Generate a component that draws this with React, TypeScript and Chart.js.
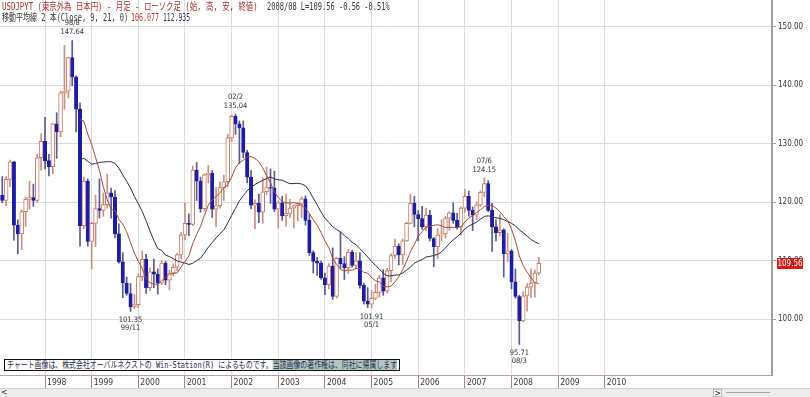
import React, { useEffect, useLayoutEffect, useRef } from 'react';
import { Chart, registerables } from 'chart.js';

Chart.register(...registerables);

// ---- data (monthly USD/JPY candles, 1997/02 .. 2008/08) ----
const START_YEAR = 1997;
const START_MONTH = 2;

const OPEN = [
  121.2, 120.3, 123.9, 126.9, 116.1, 114.6, 118.4, 120.5, 120.8, 120.3, 127.6,
  130.4, 127.1, 126.1, 133.4, 132.0, 138.7, 139.0, 144.7, 141.4, 135.9, 116.0, 123.6,
  113.3, 116.4, 118.9, 118.6, 119.6, 121.6, 120.9, 114.6, 109.8, 106.2, 104.4, 102.1,
  102.5, 107.3, 110.3, 105.4, 108.1, 107.7, 106.2, 109.6, 106.7, 107.9, 108.9, 111.0,
  114.4, 116.4, 116.2, 125.5, 123.6, 118.9, 124.7, 125.0, 118.8, 119.4, 122.5, 123.5,
  131.0, 134.7, 133.4, 132.7, 128.5, 124.3, 119.5, 119.8, 118.3, 121.8, 122.5, 122.4,
  118.8, 119.9, 117.7, 118.1, 119.0, 119.4, 119.8, 120.6, 116.9, 111.4, 109.9, 109.6,
  107.1, 105.9, 109.1, 103.9, 110.4, 109.5, 108.8, 111.5, 109.2, 110.0, 105.8, 103.1,
  102.6, 103.6, 104.6, 107.1, 104.8, 108.3, 110.9, 112.5, 111.0, 113.4, 116.4, 119.8,
  117.9, 117.2, 115.8, 117.8, 113.8, 112.4, 114.4, 114.6, 117.3, 118.2, 116.9, 115.8,
  119.0, 121.0, 118.6, 117.8, 119.5, 121.7, 123.2, 118.6, 115.8, 114.8, 115.3, 111.2,
  111.7, 106.4, 103.9, 99.7, 104.0, 105.5, 106.2, 107.9,
];
const HIGH = [
  124.4, 124.4, 127.2, 127.0, 117.0, 118.7, 120.9, 123.6, 123.1, 128.2, 131.7,
  134.5, 128.2, 133.5, 135.3, 139.0, 146.8, 144.8, 147.64, 141.6, 137.0, 124.3, 124.0,
  116.6, 121.2, 124.0, 121.6, 124.8, 122.4, 122.0, 116.3, 111.4, 107.2, 106.1, 104.2,
  107.8, 111.7, 111.1, 108.8, 110.3, 108.6, 110.0, 109.9, 108.4, 109.5, 111.3, 114.8,
  119.9, 118.0, 126.2, 126.8, 124.3, 124.9, 126.3, 125.4, 122.5, 123.5, 124.6, 131.6,
  134.9, 135.04, 133.9, 133.9, 128.9, 125.4, 120.4, 121.4, 124.2, 126.0, 125.7, 125.3,
  120.2, 121.0, 121.4, 120.5, 119.6, 120.0, 120.9, 121.1, 118.0, 111.7, 110.6, 110.0,
  107.9, 109.5, 112.2, 110.6, 114.9, 110.7, 112.0, 111.8, 111.4, 111.4, 106.2, 105.4,
  104.9, 106.0, 107.5, 108.5, 108.7, 111.2, 113.7, 112.9, 113.7, 116.6, 121.4, 121.0,
  118.6, 119.3, 119.0, 118.6, 114.0, 115.5, 117.0, 117.6, 118.4, 119.9, 118.1, 119.2,
  122.2, 121.9, 119.2, 120.1, 122.0, 124.15, 123.7, 119.8, 117.0, 117.9, 115.5, 114.7,
  111.9, 108.6, 104.1, 104.7, 106.1, 108.6, 108.4, 110.6,
];
const LOW = [
  119.9, 119.4, 122.6, 113.5, 111.2, 111.9, 115.9, 118.8, 119.3, 120.0, 125.5,
  125.7, 124.5, 124.9, 127.5, 131.2, 135.9, 137.8, 139.9, 132.0, 112.5, 115.5, 112.5,
  108.6, 112.4, 117.3, 117.6, 119.0, 117.3, 113.9, 109.6, 103.7, 104.1, 101.35, 101.8,
  102.0, 106.6, 104.4, 104.9, 105.4, 104.3, 105.9, 105.9, 105.0, 107.4, 108.3, 110.3,
  113.6, 114.3, 116.0, 120.3, 118.3, 118.5, 123.3, 117.4, 115.8, 119.0, 120.3, 122.6,
  130.4, 131.6, 126.6, 127.6, 123.3, 118.9, 115.5, 116.5, 116.4, 121.3, 119.8, 118.4,
  115.6, 116.9, 115.9, 117.4, 115.6, 116.8, 117.4, 116.1, 110.9, 107.9, 107.5, 106.8,
  104.2, 105.2, 103.4, 103.6, 108.7, 106.8, 107.8, 108.9, 108.6, 105.3, 102.6, 102.0,
  101.91, 103.3, 103.8, 104.1, 104.5, 106.4, 110.4, 109.3, 109.4, 113.3, 116.3, 115.8,
  113.4, 115.4, 115.1, 113.4, 108.98, 110.4, 113.4, 113.9, 115.2, 116.4, 115.4, 114.4,
  118.3, 117.6, 115.15, 117.0, 119.3, 120.9, 118.4, 111.6, 113.4, 114.2, 107.2, 109.9,
  105.2, 103.6, 95.71, 99.6, 101.4, 103.7, 103.8, 107.6,
];
const CLOSE = [
  120.3, 123.9, 126.9, 116.1, 114.6, 118.4, 120.5, 120.8, 120.3, 127.6, 130.4,
  127.1, 126.1, 133.4, 132.0, 138.7, 139.0, 144.7, 141.4, 135.9, 116.0, 123.6, 113.3,
  116.4, 118.9, 118.6, 119.6, 121.6, 120.9, 114.6, 109.8, 106.2, 104.4, 102.1, 102.5,
  107.3, 110.3, 105.4, 108.1, 107.7, 106.2, 109.6, 106.7, 107.9, 108.9, 111.0, 114.4,
  116.4, 116.2, 125.5, 123.6, 118.9, 124.7, 125.0, 118.8, 119.4, 122.5, 123.5, 131.0,
  134.7, 133.4, 132.7, 128.5, 124.3, 119.5, 119.8, 118.3, 121.8, 122.5, 122.4, 118.8,
  119.9, 117.7, 118.1, 119.0, 119.4, 119.8, 120.6, 116.9, 111.4, 109.9, 109.6, 107.1,
  105.9, 109.1, 103.9, 110.4, 109.5, 108.8, 111.5, 109.2, 110.0, 105.8, 103.1, 102.6,
  103.6, 104.6, 107.1, 104.8, 108.3, 110.9, 112.5, 111.0, 113.4, 116.4, 119.8, 117.9,
  117.2, 115.8, 117.8, 113.8, 112.4, 114.4, 114.6, 117.3, 118.2, 116.9, 115.8, 119.0,
  121.0, 118.6, 117.8, 119.5, 121.7, 123.2, 118.6, 115.8, 114.8, 115.3, 111.2, 111.7,
  106.4, 103.9, 99.7, 104.0, 105.5, 106.2, 107.9, 109.56,
];

const MA_SHORT = 9;
const MA_LONG = 21;

const YEAR_LABELS = ['1998', '1999', '2000', '2001', '2002', '2003', '2004', '2005', '2006', '2007', '2008', '2009', '2010'];
const PRICE_TICKS = [100, 110, 120, 130, 140, 150];

const EXTREME_PERIODS = ['98/8', '99/11', '02/2', '05/1', '07/6', '08/3'];
const EXTREME_VALUES = [147.64, 101.35, 135.04, 101.91, 124.15, 95.71];
const EXTREME_SIDES = ['high', 'low', 'high', 'low', 'high', 'low'];

const LAST_PRICE = 109.56;

// ---- helpers ----
const monthPos = (i: number) => (START_MONTH - 1) + i; // months since Jan of START_YEAR
const periodPos = (p: string) => {
  const [yy, mm] = p.split('/').map(Number);
  const year = yy < 50 ? 2000 + yy : 1900 + yy;
  return (year - START_YEAR) * 12 + (mm - 1);
};
const sma = (vals: number[], n: number) =>
  vals.map((_, i) => {
    if (i < n - 1) return null;
    let s = 0;
    for (let k = i - n + 1; k <= i; k++) s += vals[k];
    return s / n;
  });

const AXIS_FONT = "'Liberation Sans Narrow', 'DejaVu Sans Condensed', 'Liberation Sans', sans-serif";
const UP_LINE = '#c77c6a';
const UP_WICK = '#c8907e';
const DOWN_FILL = '#1c1ca6';
const DOWN_WICK = '#5a5a8c';

const overlayPlugin = {
  id: 'overlay',
  afterDatasetsDraw(chart: any) {
    const { ctx, scales } = chart;
    const x = scales.x;
    const y = scales.y;
    ctx.save();
    ctx.font = `7.5px ${AXIS_FONT}`;
    ctx.fillStyle = '#333333';
    ctx.textAlign = 'center';
    ctx.textBaseline = 'middle';
    EXTREME_PERIODS.forEach((p, i) => {
      const px = x.getPixelForValue(periodPos(p));
      const py = y.getPixelForValue(EXTREME_VALUES[i]);
      const txt = EXTREME_VALUES[i].toFixed(2);
      if (EXTREME_SIDES[i] === 'high') {
        ctx.fillText(txt, px, py - 8);
        ctx.fillText(p, px, py - 17);
      } else {
        ctx.fillText(txt, px, py + 8.5);
        ctx.fillText(p, px, py + 16.5);
      }
    });
    ctx.restore();
  },
  afterDraw(chart: any) {
    const { ctx, scales, chartArea } = chart;
    const py = scales.y.getPixelForValue(LAST_PRICE);
    ctx.save();
    ctx.fillStyle = '#d41c1c';
    ctx.fillRect(chartArea.right + 5, Math.round(py - 5.5), 26, 11);
    ctx.fillStyle = '#ffffff';
    ctx.font = `8px ${AXIS_FONT}`;
    ctx.textAlign = 'center';
    ctx.textBaseline = 'middle';
    ctx.fillText(LAST_PRICE.toFixed(2), chartArea.right + 18, py + 0.5);
    ctx.restore();
  },
};

function FitText({ width, style, children }: { width: number; style: any; children: any }) {
  const ref = useRef<HTMLDivElement>(null);
  useLayoutEffect(() => {
    const el = ref.current;
    if (!el) return;
    el.style.transform = 'none';
    const w = el.scrollWidth;
    if (w > 0) el.style.transform = `scaleX(${width / w})`;
  }, [width]);
  return (
    <div
      ref={ref}
      style={{ position: 'absolute', whiteSpace: 'nowrap', transformOrigin: '0 0', ...style }}
    >
      {children}
    </div>
  );
}

export default function App() {
  const canvasRef = useRef<HTMLCanvasElement>(null);

  useEffect(() => {
    const canvas = canvasRef.current;
    if (!canvas) return;

    const isUp = OPEN.map((o, i) => CLOSE[i] >= o);
    const wicks = OPEN.map((_, i) => ({ x: monthPos(i), y: [LOW[i], HIGH[i]] }));
    const upBodies = OPEN.map((o, i) => ({ x: monthPos(i), y: isUp[i] ? [o, CLOSE[i]] : null }));
    const downBodies = OPEN.map((o, i) => ({ x: monthPos(i), y: isUp[i] ? null : [o, CLOSE[i]] }));
    const maS = sma(CLOSE, MA_SHORT);
    const maL = sma(CLOSE, MA_LONG);
    const maShortPts: any[] = [];
    const maLongPts: any[] = [];
    CLOSE.forEach((_, i) => {
      if (i >= MA_LONG - 1) {
        maShortPts.push({ x: monthPos(i), y: maS[i] });
        maLongPts.push({ x: monthPos(i), y: maL[i] });
      }
    });

    const chart = new Chart(canvas, {
      type: 'bar',
      data: {
        datasets: [
          {
            type: 'line',
            label: 'MA9',
            data: maShortPts,
            borderColor: '#a64a3c',
            borderWidth: 1,
            pointRadius: 0,
            tension: 0,
            order: 0,
          } as any,
          {
            type: 'line',
            label: 'MA21',
            data: maLongPts,
            borderColor: '#2c2c4c',
            borderWidth: 1,
            pointRadius: 0,
            tension: 0,
            order: 1,
          } as any,
          {
            type: 'bar',
            label: 'up',
            data: upBodies,
            grouped: false,
            barPercentage: 1,
            categoryPercentage: 1,
            maxBarThickness: 4,
            backgroundColor: '#ffffff',
            borderColor: UP_LINE,
            borderWidth: 1,
            borderSkipped: false,
            order: 2,
          } as any,
          {
            type: 'bar',
            label: 'down',
            data: downBodies,
            grouped: false,
            barPercentage: 1,
            categoryPercentage: 1,
            maxBarThickness: 3.4,
            backgroundColor: DOWN_FILL,
            borderColor: DOWN_FILL,
            borderWidth: 1,
            borderSkipped: false,
            order: 2,
          } as any,
          {
            type: 'bar',
            label: 'wick',
            data: wicks,
            grouped: false,
            barPercentage: 1,
            categoryPercentage: 1,
            maxBarThickness: 1,
            backgroundColor: isUp.map((u) => (u ? UP_WICK : DOWN_WICK)),
            borderWidth: 0,
            order: 3,
          } as any,
        ],
      },
      options: {
        responsive: false,
        devicePixelRatio: 1,
        animation: false,
        layout: { padding: 0 },
        plugins: { legend: { display: false }, tooltip: { enabled: false } },
        scales: {
          x: {
            type: 'linear',
            position: 'bottom',
            offset: false,
            min: 0.42,
            max: 199,
            afterBuildTicks: (s: any) => {
              s.ticks = YEAR_LABELS.map((_, i) => ({ value: (i + 1) * 12 }));
            },
            afterFit: (s: any) => {
              s.height = 22;
              s.paddingLeft = 0;
              s.paddingRight = 0;
            },
            grid: {
              offset: false,
              color: '#dcdcdc',
              tickColor: '#b47c7c',
              tickLength: 13,
              lineWidth: 1,
            },
            border: { display: true, color: '#b9a2a2', width: 1 },
            ticks: {
              autoSkip: false,
              maxRotation: 0,
              align: 'start',
              labelOffset: 2,
              padding: -10,
              color: '#383838',
              font: { family: AXIS_FONT, size: 8.5 },
              callback: (v: any) => YEAR_LABELS[Math.round(v / 12) - 1] ?? '',
            },
          } as any,
          y: {
            type: 'linear',
            position: 'right',
            min: 90.48,
            max: 154.56,
            afterBuildTicks: (s: any) => {
              s.ticks = PRICE_TICKS.map((v) => ({ value: v }));
            },
            afterFit: (s: any) => {
              s.width = 38;
              s.paddingTop = 0;
              s.paddingBottom = 0;
            },
            grid: { color: '#dcdcdc', tickColor: '#9a9a9a', tickLength: 4, lineWidth: 1 },
            border: { display: true, color: '#a89e98', width: 2 },
            ticks: {
              padding: 2,
              color: '#383838',
              font: { family: AXIS_FONT, size: 8 },
              callback: (v: any) => Number(v).toFixed(2),
            },
          } as any,
        },
      },
      plugins: [overlayPlugin],
    } as any);

    return () => chart.destroy();
  }, []);

  const hdrFont = "'DejaVu Sans Mono', 'Noto Sans CJK JP', monospace";

  return (
    <div
      style={{
        position: 'fixed',
        left: 0,
        top: 0,
        width: 810,
        height: 397,
        background: '#ffffff',
        overflow: 'hidden',
      }}
    >
      <canvas
        ref={canvasRef}
        width={810}
        height={397}
        style={{ position: 'absolute', left: 0, top: 0, width: 810, height: 397 }}
      />
      <FitText width={256} style={{ left: 2, top: 1, fontSize: 10, lineHeight: '11px', fontFamily: hdrFont, color: '#a83030' }}>
        USDJPYT (東京外為 日本円) - 月足 - ローソク足 (始, 高, 安, 終値)
      </FitText>
      <FitText width={123} style={{ left: 267, top: 1, fontSize: 10, lineHeight: '11px', fontFamily: hdrFont, color: '#383838' }}>
        2008/08 L=109.56 -0.56  -0.51%
      </FitText>
      <FitText width={126} style={{ left: 2, top: 12, fontSize: 10, lineHeight: '11px', fontFamily: hdrFont, color: '#383838' }}>
        移動平均線 2 本(Close, 9, 21, 0)
      </FitText>
      <FitText width={28} style={{ left: 131, top: 12, fontSize: 10, lineHeight: '11px', fontFamily: hdrFont, color: '#b03a2a' }}>
        106.077
      </FitText>
      <FitText width={27} style={{ left: 163, top: 12, fontSize: 10, lineHeight: '11px', fontFamily: hdrFont, color: '#30304c' }}>
        112.935
      </FitText>
      <div
        style={{
          position: 'absolute',
          left: 4,
          top: 359,
          width: 396,
          height: 12,
          boxSizing: 'border-box',
          border: '1px solid #101010',
          background: '#ffffff',
        }}
      >
        <FitText width={390} style={{ left: 2, top: 0, fontSize: 9, lineHeight: '10px', fontFamily: hdrFont, color: '#1c2a4a' }}>
          チャート画像は、株式会社オーバルネクストの Win-Station(R) によるものです。
          <span style={{ background: 'rgba(120,150,146,0.55)' }}>当該画像の著作権は、同社に帰属します</span>
        </FitText>
      </div>
      <div
        style={{
          position: 'absolute',
          left: 0,
          top: 388,
          width: 810,
          height: 9,
          background: '#ececec',
          borderTop: '1px solid #cfcfcf',
          boxSizing: 'border-box',
        }}
      >
        <div style={{ position: 'absolute', left: 1, top: 0, width: 9, height: 8, fontSize: 8, lineHeight: '8px', color: '#333', fontFamily: 'DejaVu Sans' }}>&lt;</div>
        <div style={{ position: 'absolute', left: 713, top: 0, width: 9, height: 8, fontSize: 8, lineHeight: '8px', color: '#333', fontFamily: 'DejaVu Sans', background: '#f8f8f8', border: '1px solid #bbb', boxSizing: 'border-box', textAlign: 'center' }}>&gt;</div>
        <div style={{ position: 'absolute', left: 726, top: 3, width: 44, height: 1, background: '#aaa' }} />
      </div>
    </div>
  );
}
